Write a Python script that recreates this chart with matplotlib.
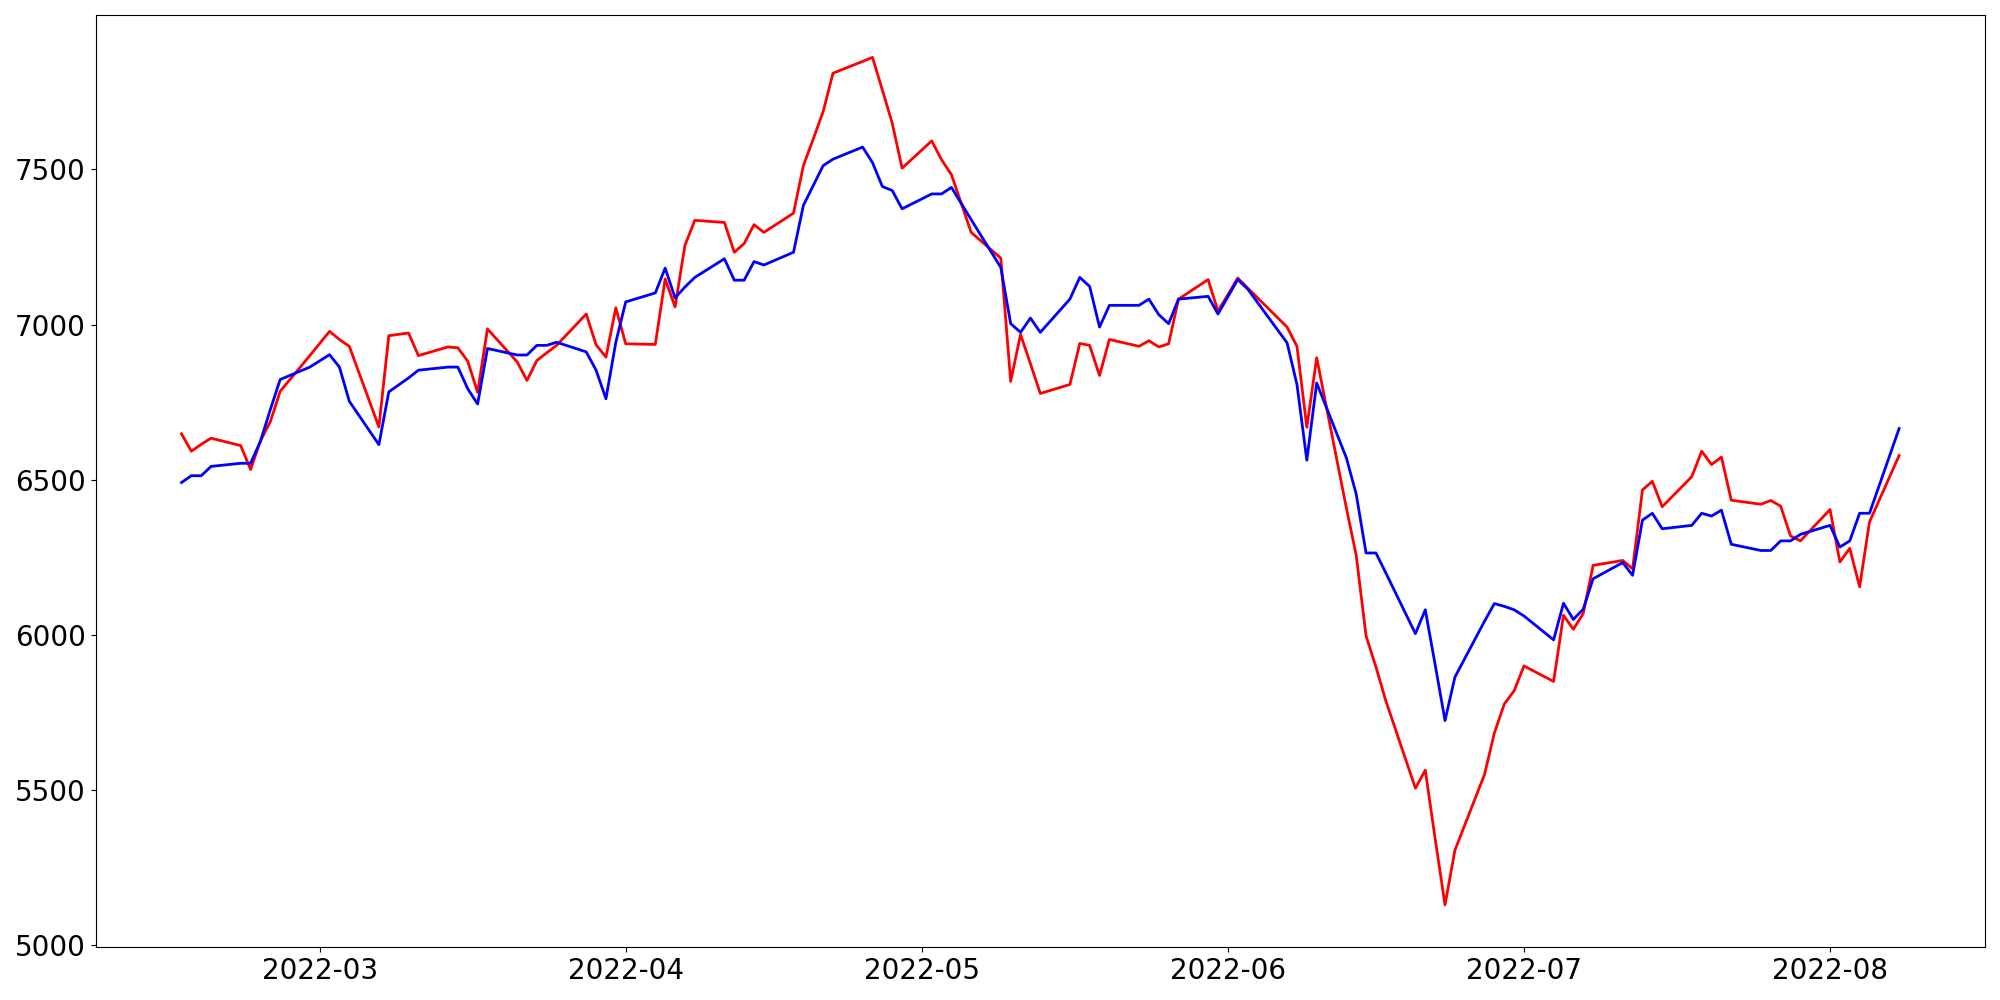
import pandas as pd
import matplotlib
matplotlib.use('Agg')
import matplotlib.pyplot as plt

# KRX trading days, 2022-02-15 .. 2022-08-08
holidays = ['2022-03-01', '2022-03-09', '2022-05-05', '2022-06-01', '2022-06-06']
dates = pd.bdate_range('2022-02-15', '2022-08-08', freq='C', holidays=holidays)

red_feb = [6648, 6592, 6614, 6634, 6610, 6533, 6625, 6687, 6785, 6900]
red_mar = [6978, 6952, 6930, 6670, 6964, 6973, 6900, 6928, 6925, 6882, 6782,
           6986, 6880, 6820, 6884, 6909, 6933, 7034, 6935, 6895, 7054]
red_apr = [6938, 6936, 7147, 7057, 7255, 7336, 7329, 7233, 7261, 7322, 7297,
           7359, 7512, 7598, 7686, 7810, 7848, 7861, 7756, 7649, 7504]
red_may = [7592, 7531, 7483, 7297, 7214, 6817, 6968, 6874, 6778, 6807, 6939,
           6933, 6836, 6952, 6930, 6948, 6928, 6938, 7082, 7145, 7043]
red_jun = [7150, 7118, 6992, 6930, 6669, 6893, 6410, 6257, 5997, 5897, 5788,
           5506, 5564, 5343, 5130, 5306, 5550, 5684, 5777, 5820]
red_jul = [5900, 5850, 6063, 6018, 6069, 6224, 6240, 6213, 6467, 6495, 6413,
           6510, 6592, 6549, 6573, 6434, 6421, 6433, 6415, 6319, 6303]
red_aug = [6404, 6235, 6279, 6155, 6364, 6578]

blue_feb = [6491, 6513, 6513, 6543, 6553, 6553, 6624, 6726, 6823, 6863]
blue_mar = [6903, 6863, 6753, 6613, 6783, 6828, 6853, 6863, 6863, 6793, 6744,
            6923, 6902, 6902, 6933, 6933, 6943, 6912, 6853, 6761, 6943]
blue_apr = [7073, 7102, 7182, 7086, 7121, 7152, 7212, 7143, 7143, 7203, 7192,
            7233, 7384, 7448, 7512, 7533, 7572, 7522, 7445, 7432, 7373]
blue_may = [7421, 7421, 7442, 7338, 7184, 7003, 6975, 7021, 6975, 7082, 7152,
            7123, 6992, 7062, 7062, 7082, 7032, 7003, 7082, 7091, 7034]
blue_jun = [7145, 7115, 6941, 6807, 6563, 6812, 6571, 6454, 6264, 6264, 6200,
            6004, 6081, 5904, 5724, 5864, 6044, 6101, 6092, 6081]
blue_jul = [6061, 5984, 6102, 6050, 6083, 6181, 6233, 6192, 6370, 6392, 6342,
            6353, 6392, 6383, 6402, 6292, 6272, 6272, 6303, 6303, 6324]
blue_aug = [6353, 6283, 6303, 6392, 6392, 6665]

red = red_feb + red_mar + red_apr + red_may + red_jun + red_jul + red_aug
blue = blue_feb + blue_mar + blue_apr + blue_may + blue_jun + blue_jul + blue_aug

fig, ax = plt.subplots(figsize=(20, 10), dpi=100)
ax.plot(dates, red, color='red', linewidth=2)
ax.plot(dates, blue, color='blue', linewidth=2)
ax.set_yticks([5000, 5500, 6000, 6500, 7000, 7500])
ax.tick_params(labelsize=20)

plt.tight_layout()
plt.savefig('out.png', dpi=100)
